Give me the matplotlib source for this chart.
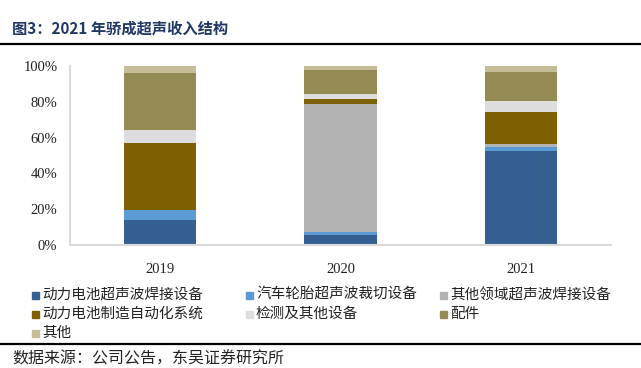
import matplotlib
matplotlib.use("Agg")
import matplotlib.pyplot as plt
from matplotlib.patches import Rectangle
from matplotlib.lines import Line2D
from matplotlib.ticker import PercentFormatter
import numpy as np

plt.rcParams['font.family'] = ['Noto Sans CJK SC', 'DejaVu Sans']

years = ["2019", "2020", "2021"]
categories = ["动力电池超声波焊接设备", "汽车轮胎超声波裁切设备", "其他领域超声波焊接设备",
              "动力电池制造自动化系统", "检测及其他设备", "配件", "其他"]
battery_weld = [13.8, 5.6, 52.6]
tire_cut = [5.8, 1.5, 2.3]
other_weld = [0.0, 71.9, 1.8]
automation = [37.5, 2.4, 17.4]
inspection = [7.3, 3.1, 6.3]
parts = [31.7, 13.1, 16.2]
others = [3.9, 2.4, 3.4]
series = [battery_weld, tire_cut, other_weld, automation, inspection, parts, others]
colors = ["#365F91", "#5B9BD5", "#B3B3B3", "#7F6000", "#DDDDDD", "#948A54", "#C4BD97"]
yticks = [0, 20, 40, 60, 80, 100]

W, H = 641, 368
fig = plt.figure(figsize=(W / 100, H / 100), dpi=100)
ax = fig.add_axes([70 / W, 1 - 245 / H, (611 - 70) / W, (245 - 66) / H])

x = np.arange(len(years))
bottom = np.zeros(len(years))
for vals, c in zip(series, colors):
    v = np.array(vals, dtype=float)
    ax.bar(x, v, width=0.4, bottom=bottom, color=c, edgecolor='none')
    bottom += v

ax.set_xlim(-0.5, len(years) - 0.5)
ax.set_ylim(0, 100)
ax.set_yticks(yticks)
ax.yaxis.set_major_formatter(PercentFormatter(decimals=0))
ax.set_xticks(x)
ax.set_xticklabels(years)
for lab in ax.get_xticklabels() + ax.get_yticklabels():
    lab.set_family('Liberation Serif')
    lab.set_fontsize(10.5)
    lab.set_color('#222222')
ax.tick_params(axis='y', length=0, pad=9)
ax.tick_params(axis='x', length=0, pad=13)
for s in ['top', 'right']:
    ax.spines[s].set_visible(False)
for s in ['left', 'bottom']:
    ax.spines[s].set_color('#D9D9D9')
    ax.spines[s].set_linewidth(1.5)

# title
fig.text(12 / W, 1 - 29 / H, "图3：2021 年骄成超声收入结构", fontsize=11, fontweight='bold',
         color='#1F3864', va='center', ha='left')
fig.add_artist(Line2D([0, 1], [1 - 44 / H, 1 - 44 / H], color='black', lw=1.6))

# legend (manual, row-wise 3 columns)
col_x = [35, 249, 443]
row_y = [295, 314, 333]
for i, (name, c) in enumerate(zip(categories, colors)):
    r, k = divmod(i, 3)
    mx, my = col_x[k], row_y[r]
    fig.add_artist(Rectangle(((mx - 3.5) / W, 1 - (my + 3.5) / H), 7 / W, 7 / H,
                             color=c, transform=fig.transFigure))
    fig.text((mx + 7) / W, 1 - my / H, name, fontsize=10.5, va='center', ha='left',
             color='#222222')

fig.add_artist(Line2D([0, 1], [1 - 344 / H, 1 - 344 / H], color='black', lw=1.6))
fig.text(12 / W, 1 - 359 / H, "数据来源：公司公告，东吴证券研究所", fontsize=11.5,
         va='center', ha='left', color='#222222')

fig.savefig("out.png", dpi=100)
